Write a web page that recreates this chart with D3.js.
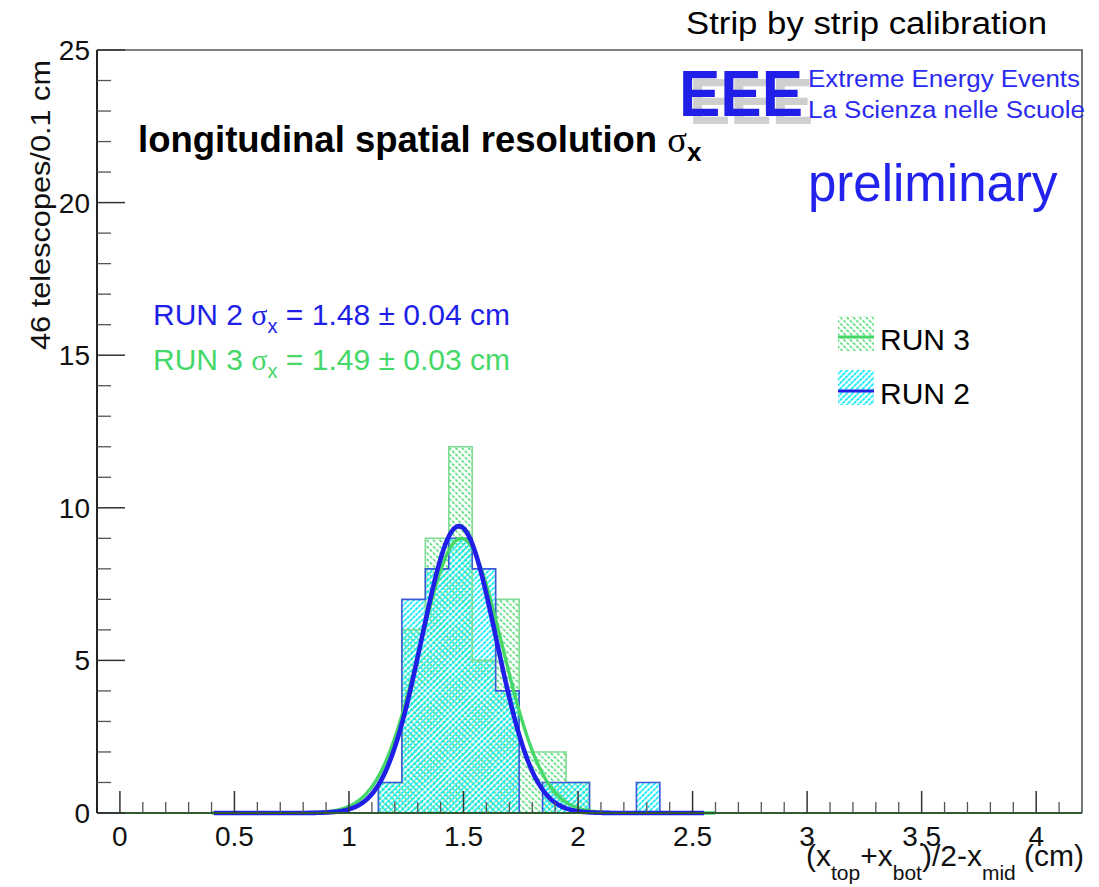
<!DOCTYPE html>
<html>
<head>
<meta charset="utf-8">
<script src="https://cdn.jsdelivr.net/npm/d3@7"></script>
<style>
  html, body { margin: 0; padding: 0; background: #ffffff; }
  svg { display: block; }
  text { font-family: "Liberation Sans", Arial, Helvetica, sans-serif; }
</style>
</head>
<body>
<svg id="chart" width="1099" height="887"></svg>
<script>
// ---- histogram definition: 42 bins over [-0.1, 4.2] cm ----
const histRange = [-0.1, 4.2];
const nBins = 42;
const firstFilledBin = 12;          // index of the first bin listed below
// entries per bin, starting at bin 12
const run2Counts = [1, 7, 8, 9, 8, 4, 0, 1, 1, 0, 0, 1];
const run3Counts = [1, 6, 9, 12, 5, 7, 2, 2, 1, 0, 0, 0];

// Gaussian fit parameters [amplitude, mean, sigma] and drawn range
const run2Fit = [9.4, 1.48, 0.163];
const run3Fit = [9.0, 1.49, 0.18];
const run2FitRange = [0.41, 2.55];
const run3FitRange = [0.40, 2.60];

// axes
const xDomain = [-0.1, 4.2];
const yDomain = [0, 25];
const xMajorTicks = [0, 0.5, 1, 1.5, 2, 2.5, 3, 3.5, 4];
const xTickLabels = ["0", "0.5", "1", "1.5", "2", "2.5", "3", "3.5", "4"];
const yMajorTicks = [0, 5, 10, 15, 20, 25];
const yTickLabels = ["0", "5", "10", "15", "20", "25"];

const seriesNames = ["RUN 3", "RUN 2"];
const fitResults = [
  { run: "RUN 2", value: "1.48", err: "0.04" },
  { run: "RUN 3", value: "1.49", err: "0.03" }
];

// ---- colours ----
const BLUE = "#1f1fe8";
const BLUE_LINE = "#3c5ad8";
const CYAN = "#00e8f8";
const GREEN = "#22d24e";
const GREEN_LINE = "#80dc92";
const GREEN_FIT = "#45d868";

const svg = d3.select("#chart");
const frame = { left: 97, right: 1082, top: 50, bottom: 813 };

const x = d3.scaleLinear().domain(xDomain).range([frame.left, frame.right]);
const y = d3.scaleLinear().domain(yDomain).range([frame.bottom, frame.top]);

// ---- fill patterns (hatched styles) ----
const defs = svg.append("defs");
function hatch(id, color, angle, dash, width, step) {
  const p = defs.append("pattern")
    .attr("id", id)
    .attr("patternUnits", "userSpaceOnUse")
    .attr("width", step).attr("height", step)
    .attr("patternTransform", `rotate(${angle})`);
  p.append("line")
    .attr("x1", 1).attr("y1", 0).attr("x2", 1).attr("y2", step)
    .attr("stroke", color).attr("stroke-width", width)
    .attr("stroke-dasharray", dash);
}
hatch("fillRun3", GREEN, -45, "2.5 1.5", 1.3, 4.5);
hatch("fillRun2", CYAN, 45, "1.6 0.7", 1.8, 4);

// ---- histogram helpers ----
const binWidth = (histRange[1] - histRange[0]) / nBins;
function fullCounts(counts) {
  const all = new Array(nBins).fill(0);
  counts.forEach((c, i) => { all[firstFilledBin + i] = c; });
  return all;
}
function stepPath(counts) {
  const all = fullCounts(counts);
  const pts = [[histRange[0], 0]];
  all.forEach((c, i) => {
    const lo = histRange[0] + i * binWidth;
    pts.push([lo, c], [lo + binWidth, c]);
  });
  pts.push([histRange[1], 0]);
  return d3.line().x(d => x(d[0])).y(d => y(d[1]))(pts);
}
function drawFill(counts, fillId) {
  const all = fullCounts(counts);
  svg.append("g").selectAll("rect")
    .data(all.map((c, i) => ({ c, i })).filter(d => d.c > 0))
    .join("rect")
    .attr("x", d => x(histRange[0] + d.i * binWidth))
    .attr("width", x(histRange[0] + binWidth) - x(histRange[0]))
    .attr("y", d => y(d.c))
    .attr("height", d => y(0) - y(d.c))
    .attr("fill", `url(#${fillId})`);
}
function drawOutline(counts, lineColor) {
  svg.append("path")
    .attr("d", stepPath(counts))
    .attr("fill", "none")
    .attr("stroke", lineColor)
    .attr("stroke-width", 1.6);
}

drawFill(run3Counts, "fillRun3");
drawFill(run2Counts, "fillRun2");
drawOutline(run3Counts, GREEN_LINE);
drawOutline(run2Counts, BLUE_LINE);

// ---- Gaussian fit curves ----
function gauss(p, v) { return p[0] * Math.exp(-0.5 * Math.pow((v - p[1]) / p[2], 2)); }
function fitPath(p, range) {
  const xs = d3.range(0, 301).map(k => range[0] + (range[1] - range[0]) * k / 300);
  return d3.line().x(v => x(v)).y(v => y(gauss(p, v)))(xs);
}
svg.append("path").attr("d", fitPath(run3Fit, run3FitRange))
  .attr("fill", "none").attr("stroke", GREEN_FIT).attr("stroke-width", 3.4);
svg.append("path").attr("d", fitPath(run2Fit, run2FitRange))
  .attr("fill", "none").attr("stroke", BLUE).attr("stroke-width", 4.6)
  .attr("stroke-linejoin", "round");

// ---- frame ----
svg.append("path")
  .attr("d", `M${frame.left},${frame.top}H${frame.right}V${frame.bottom}`)
  .attr("fill", "none").attr("stroke", "#555").attr("stroke-width", 1.6);

// ---- axes ----
const xAxisMinor = d3.range(0, 42).map(k => k / 10)
  .filter(v => v <= 4.15 && !xMajorTicks.some(t => Math.abs(t - v) < 1e-6));
const gx = svg.append("g");
gx.append("line")
  .attr("x1", frame.left).attr("x2", frame.right)
  .attr("y1", y(0)).attr("y2", y(0))
  .attr("stroke", "#2f5a32").attr("stroke-width", 2.2);
gx.selectAll("line.major").data(xMajorTicks).join("line").attr("class", "major")
  .attr("x1", d => x(d)).attr("x2", d => x(d))
  .attr("y1", y(0)).attr("y2", y(0) - 22)
  .attr("stroke", "#333").attr("stroke-width", 1.5);
gx.selectAll("line.minor").data(xAxisMinor).join("line").attr("class", "minor")
  .attr("x1", d => x(d)).attr("x2", d => x(d))
  .attr("y1", y(0)).attr("y2", y(0) - 11)
  .attr("stroke", "#555").attr("stroke-width", 1.3);
gx.selectAll("text").data(xMajorTicks).join("text")
  .attr("x", d => x(d)).attr("y", 846)
  .attr("text-anchor", "middle")
  .attr("font-size", 28)
  .attr("fill", "#111")
  .text((d, i) => xTickLabels[i]);

const yAxisMinor = d3.range(1, 25).filter(v => v % 5 !== 0);
const gy = svg.append("g");
gy.append("line")
  .attr("x1", frame.left).attr("x2", frame.left)
  .attr("y1", frame.top).attr("y2", frame.bottom)
  .attr("stroke", "#222").attr("stroke-width", 2);
gy.selectAll("line.major").data(yMajorTicks).join("line").attr("class", "major")
  .attr("x1", frame.left).attr("x2", frame.left + 28)
  .attr("y1", d => y(d)).attr("y2", d => y(d))
  .attr("stroke", "#333").attr("stroke-width", 1.5);
gy.selectAll("line.minor").data(yAxisMinor).join("line").attr("class", "minor")
  .attr("x1", frame.left).attr("x2", frame.left + 14)
  .attr("y1", d => y(d)).attr("y2", d => y(d))
  .attr("stroke", "#555").attr("stroke-width", 1.3);
gy.selectAll("text").data(yMajorTicks).join("text")
  .attr("x", 90).attr("y", d => y(d) + 10)
  .attr("text-anchor", "end")
  .attr("font-size", 28)
  .attr("fill", "#111")
  .text((d, i) => yTickLabels[i]);

// axis titles
svg.append("text")
  .attr("transform", "translate(50,205) rotate(-90)")
  .attr("text-anchor", "middle")
  .attr("font-size", 27)
  .attr("fill", "#111")
  .attr("textLength", 290).attr("lengthAdjust", "spacingAndGlyphs")
  .text("46 telescopes/0.1 cm");

const xt = svg.append("text").attr("x", 806).attr("y", 866)
  .attr("font-size", 30).attr("fill", "#111");
const xtParts = [["(x", 0], ["top", 1], ["+x", 0], ["bot", 1], [")/2-x", 0], ["mid", 1], [" (cm)", 0]];
let lowered = false;
xtParts.forEach(([s, sub]) => {
  const t = xt.append("tspan").text(s);
  if (sub) { t.attr("font-size", 21).attr("dy", lowered ? 0 : 14); lowered = true; }
  else { t.attr("dy", lowered ? -14 : 0); lowered = false; }
});

// ---- title and annotations ----
const title = svg.append("text").attr("x", 138).attr("y", 152)
  .attr("font-size", 36.5).attr("font-weight", "bold").attr("fill", "#000");
title.append("tspan").text("longitudinal spatial resolution ");
title.append("tspan").attr("font-weight", "normal")
  .attr("font-family", "'Liberation Serif', 'DejaVu Serif', serif").text("σ");
title.append("tspan").attr("font-size", 26).attr("dy", 9).text("x");

fitResults.forEach((r, i) => {
  const t = svg.append("text").attr("x", 153).attr("y", 325 + i * 45)
    .attr("font-size", 30).attr("fill", i === 0 ? BLUE : GREEN_FIT);
  t.append("tspan").text(`${r.run} `);
  t.append("tspan").attr("font-family", "'Liberation Serif', 'DejaVu Serif', serif").text("σ");
  t.append("tspan").attr("font-size", 20).attr("dy", 8).text("x");
  t.append("tspan").attr("dy", -8).text(` = ${r.value} ± ${r.err} cm`);
});

// EEE logo
svg.append("text").attr("x", 689).attr("y", 124)
  .attr("font-size", 64).attr("font-weight", "bold").attr("fill", "#cfcfcf")
  .attr("textLength", 124).attr("lengthAdjust", "spacingAndGlyphs")
  .text("EEE");
svg.append("text").attr("x", 679).attr("y", 116)
  .attr("font-size", 64).attr("font-weight", "bold").attr("fill", BLUE)
  .attr("textLength", 124).attr("lengthAdjust", "spacingAndGlyphs")
  .text("EEE");
svg.append("text").attr("x", 808).attr("y", 87)
  .attr("font-size", 23).attr("fill", "#2a2af0")
  .attr("textLength", 272).attr("lengthAdjust", "spacingAndGlyphs")
  .text("Extreme Energy Events");
svg.append("text").attr("x", 808).attr("y", 118)
  .attr("font-size", 23).attr("fill", "#2a2af0")
  .attr("textLength", 277).attr("lengthAdjust", "spacingAndGlyphs")
  .text("La Scienza nelle Scuole");
svg.append("text").attr("x", 808).attr("y", 201)
  .attr("font-size", 51).attr("fill", "#2222ee")
  .text("preliminary");

// ---- legend ----
const legendRows = [
  { name: seriesNames[0], fill: "fillRun3", line: GREEN_FIT, top: 316 },
  { name: seriesNames[1], fill: "fillRun2", line: BLUE, top: 370 }
];
legendRows.forEach(r => {
  svg.append("rect").attr("x", 838).attr("y", r.top).attr("width", 36).attr("height", 35)
    .attr("fill", `url(#${r.fill})`);
  svg.append("line").attr("x1", 838).attr("x2", 874)
    .attr("y1", r.top + 21).attr("y2", r.top + 21)
    .attr("stroke", r.line).attr("stroke-width", 3);
  svg.append("text").attr("x", 880).attr("y", r.top + 34)
    .attr("font-size", 30).attr("fill", "#000").text(r.name);
});

// ---- page heading ----
svg.append("text").attr("x", 686).attr("y", 34)
  .attr("font-family", "Lato, 'Open Sans', sans-serif")
  .attr("font-size", 31).attr("fill", "#000")
  .attr("textLength", 361).attr("lengthAdjust", "spacingAndGlyphs")
  .text("Strip by strip calibration");
</script>
</body>
</html>
